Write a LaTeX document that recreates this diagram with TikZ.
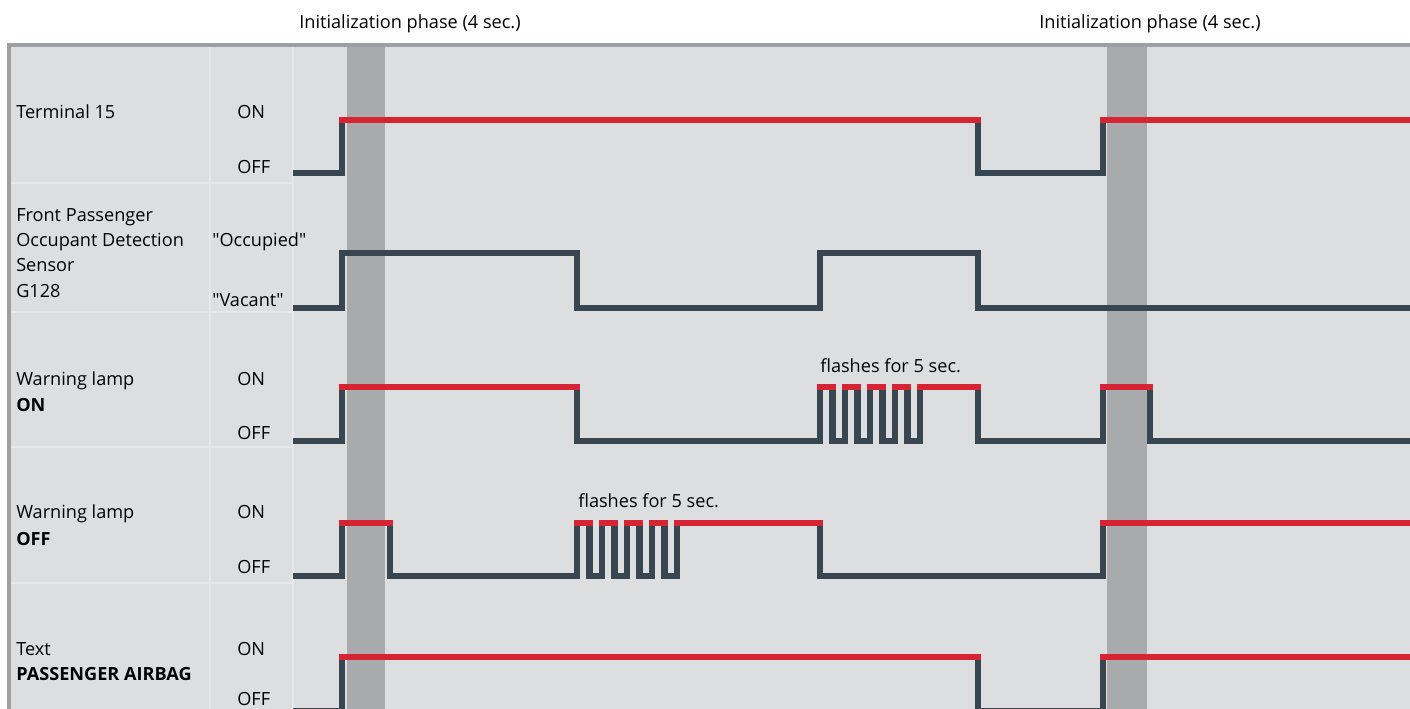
\documentclass[tikz,border=0pt]{standalone}
\usepackage{fontspec}
\setmainfont{Open Sans}
\usepackage{tikz}
\usetikzlibrary{positioning, calc}
\definecolor{panelgray}{RGB}{221,222,224}
\definecolor{framegray}{RGB}{158,159,161}
\definecolor{phasegray}{RGB}{168,170,172}
\definecolor{gridwhite}{RGB}{231,232,234}
\definecolor{signaldark}{RGB}{55,70,80}
\definecolor{signalred}{RGB}{214,36,52}

\begin{document}
\begin{tikzpicture}[
        x=0.75pt, y=-0.75pt,
        txt/.style={anchor=base west, inner sep=0pt, font=\fontsize{13.6}{16}\selectfont},
        boldtxt/.style={txt, font=\fontsize{13.6}{16}\selectfont\bfseries},
        phasebar/.style={fill=phasegray, draw=none},
        sepline/.style={draw=gridwhite, line width=1pt},
        lowline/.style={draw=signaldark, line width=5pt, line join=miter},
        highline/.style={draw=signalred, line width=5pt, line cap=rect},
    ]
        \useasboundingbox (0,0) rectangle (1410,709);

        % panel and initialization phases
        \fill[panelgray] (9,45) rectangle (1412,712);
        \fill[phasebar] (347,46) rectangle (385,712);
        \fill[phasebar] (1107,46) rectangle (1147,712);
        \draw[sepline] (210,46) -- (210,712);
        \draw[sepline] (293,46) -- (293,712);
        \foreach \y in {183,312,447,583}
            \draw[sepline] (10,\y) -- (293,\y);
        \draw[framegray, line width=2.4pt] (9,712) -- (9,45) -- (1412,45);

        \node[txt, anchor=base] (phaseA) at (410,29) {Initialization phase (4 sec.)};
        \node[txt, anchor=base] (phaseB) at (1150,29) {Initialization phase (4 sec.)};

        % signal names
        \node[txt] (term) at (16,119) {Terminal 15};
        \node[txt] (sensA) at (16,222) {Front Passenger};
        \node[txt] (sensB) at (16,247) {Occupant Detection};
        \node[txt] (sensC) at (16,272) {Sensor};
        \node[txt] (sensD) at (16,297) {G128};
        \node[txt] (lampA) at (16,385) {Warning lamp};
        \node[boldtxt] (lampAon) at (16,411) {ON};
        \node[txt] (lampB) at (16,518) {Warning lamp};
        \node[boldtxt] (lampBoff) at (16,545) {OFF};
        \node[txt] (textA) at (16,655) {Text};
        \node[boldtxt] (textB) at (16,680) {PASSENGER AIRBAG};

        % levels
        \node[txt] (termOn) at (237,119) {ON};
        \node[txt] (termOff) at (237,174) {OFF};
        \node[txt] (sensOcc) at (212,247) {\textquotedbl Occupied\textquotedbl};
        \node[txt] (sensVac) at (212,306) {\textquotedbl Vacant\textquotedbl};
        \node[txt] (lampAOn) at (237,385) {ON};
        \node[txt] (lampAOff) at (237,439) {OFF};
        \node[txt] (lampBOn) at (237,518) {ON};
        \node[txt] (lampBOff) at (237,573) {OFF};
        \node[txt] (textOn) at (237,655) {ON};
        \node[txt] (textOff) at (237,705) {OFF};

        \node[txt] (flashA) at (820,372) {flashes for 5 sec.};
        \node[txt] (flashB) at (578,507) {flashes for 5 sec.};

        % Terminal 15
        \draw[lowline] (293,173) -| (342,120) -| (978,173) -| (1103,120) -- (1415,120);
        \draw[highline] (342,120) -- (978,120);
        \draw[highline] (1103,120) -- (1415,120);

        % occupant detection sensor
        \draw[lowline] (293,308) -| (342,253) -| (577,308) -| (820,253) -| (978,308) -- (1415,308);

        % warning lamp ON
        \draw[lowline] (293,441) -| (342,387) -| (577,441) -| (820,387)
            -| (832.5,441) -| (845,387) -| (857.5,441) -| (870,387)
            -| (882.5,441) -| (895,387) -| (907.5,441) -| (920,387)
            -| (978,441) -| (1103,387) -| (1150,441) -- (1415,441);
        \draw[highline] (342,387) -- (577,387);
        \foreach \k in {0,...,3}
            \draw[highline] ({820+25*\k},387) -- ++(12.5,0);
        \draw[highline] (920,387) -- (978,387);
        \draw[highline] (1103,387) -- (1150,387);

        % warning lamp OFF
        \draw[lowline] (293,576) -| (342,523) -| (390,576) -| (577,523)
            -| (589.5,576) -| (602,523) -| (614.5,576) -| (627,523)
            -| (639.5,576) -| (652,523) -| (664.5,576) -| (677,523)
            -| (820,576) -| (1103,523) -- (1415,523);
        \draw[highline] (342,523) -- (390,523);
        \foreach \k in {0,...,3}
            \draw[highline] ({577+25*\k},523) -- ++(12.5,0);
        \draw[highline] (677,523) -- (820,523);
        \draw[highline] (1103,523) -- (1415,523);

        % text PASSENGER AIRBAG
        \draw[lowline] (293,711) -| (342,657) -| (978,711) -| (1103,657) -- (1415,657);
        \draw[highline] (342,657) -- (978,657);
        \draw[highline] (1103,657) -- (1415,657);
    \end{tikzpicture}
\end{document}
